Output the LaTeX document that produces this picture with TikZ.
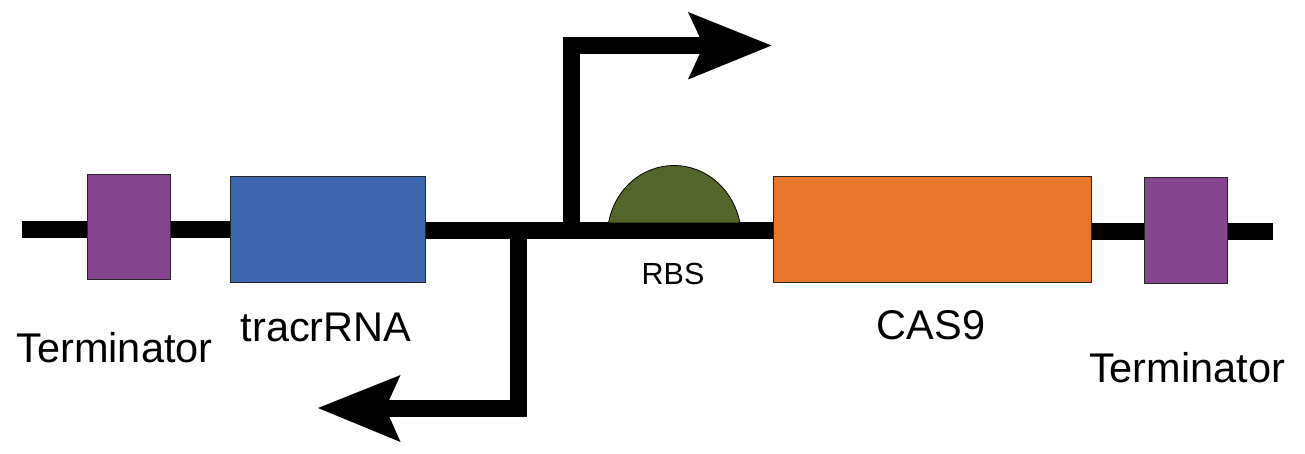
\documentclass[tikz,border=0pt]{standalone}
\usepackage{fontspec}
\setmainfont{Liberation Sans}
\definecolor{term}{HTML}{86468F}
\definecolor{trac}{HTML}{3E66AE}
\definecolor{cas}{HTML}{E8762B}
\definecolor{rbs}{HTML}{54652B}
\tikzset{
 part/.style={draw=black!85,line width=0.9pt,inner sep=0pt,anchor=north west},
 wire/.style={line width=17pt,draw=black,line cap=butt,line join=miter},
 head/.style={fill=black,draw=none},
 lab/.style={font=\fontsize{41.5pt}{44pt}\selectfont,inner sep=0pt,text=black,anchor=base},
 smalllab/.style={lab,font=\fontsize{30.5pt}{33pt}\selectfont},
}
\begin{document}
\begin{tikzpicture}[x=1pt,y=-1pt]
\useasboundingbox (0,0) rectangle (1305,454);
% parts
\node[part,fill=term,minimum width=83pt,minimum height=105.5pt] (t1) at (86.7,173.7) {};
\node[part,fill=trac,minimum width=195pt,minimum height=105.5pt] (tr) at (230,176.2) {};
\node[part,fill=cas,minimum width=318.5pt,minimum height=105.5pt] (c) at (772.7,176.2) {};
\node[part,fill=term,minimum width=83pt,minimum height=105.5pt] (t2) at (1143.7,177.2) {};
% free ends and junctions
\coordinate (w0) at (22,230);
\coordinate (w1) at (1273,232);
\coordinate (m) at (426,231);
\coordinate (up) at (571,231);
\coordinate (upc) at (571,45.5);
\coordinate (upn) at (704,45.5);
\coordinate (dn) at (518,231);
\coordinate (dnc) at (518,408);
\coordinate (dnn) at (385,408);
% backbone
\draw[wire] (w0) -- (w0 -| t1.west);
\draw[wire] (w0 -| t1.east) -- (w0 -| tr.west);
\draw[wire] (m -| tr.east) -- (m -| c.west);
\draw[wire] (w1 -| c.east) -- (w1 -| t2.west);
\draw[wire] (w1 -| t2.east) -- (w1);
% promoters
\draw[wire] (up) -- (upc) -- (upn);
\fill[head] (688,12) -- (771.5,45.5) -- (688,79.5) -- (703.5,45.5) -- cycle;
\draw[wire] (dn) -- (dnc) -- (dnn);
\fill[head] (400.5,375) -- (318,408) -- (400.5,442) -- (385.5,408) -- cycle;
% RBS
\draw[fill=rbs,line width=0.8pt] (608.5,223) .. controls (615,188) and (643,165.5) .. (674,165.5) .. controls (705,165.5) and (733,188) .. (740,223) -- cycle;
% labels
\node[lab] (lt1) at (114.5,362) {Terminator};
\node[lab] (ltr) at (326,341) {tracrRNA};
\node[smalllab] (lr) at (673,284) {RBS};
\node[lab] (lc) at (931,339) {CAS9};
\node[lab] (lt2) at (1187,382) {Terminator};
\end{tikzpicture}
\end{document}
